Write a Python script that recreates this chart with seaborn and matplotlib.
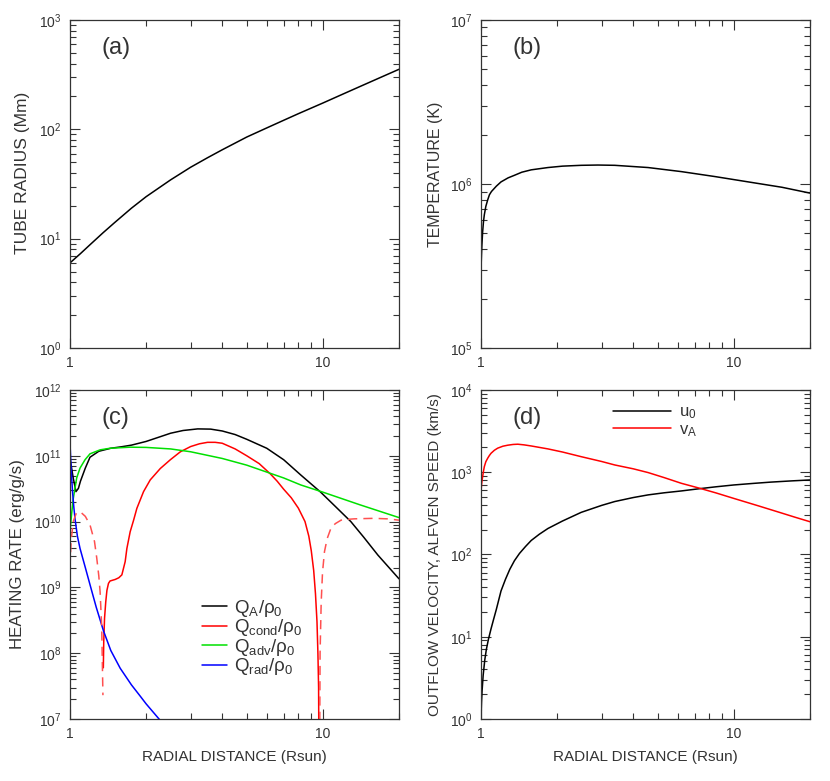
import matplotlib
matplotlib.use('Agg')
import matplotlib.pyplot as plt
import seaborn as sns
from matplotlib.ticker import LogLocator, NullFormatter, FixedLocator, FixedFormatter

# (a) tube radius (Mm)
r_a = [1.0, 1.1, 1.2, 1.35, 1.5, 1.75, 2.0, 2.5, 3.0, 3.5, 4.0, 5.0, 6.0, 7.0, 8.0,
       10.0, 12.0, 14.0, 17.0, 20.0]
tube_radius = [6.0, 7.3, 8.8, 11.3, 14.0, 19.0, 24.2, 34.5, 45, 55, 65, 85, 103, 121, 139,
               174, 210, 246, 300, 354]

# (b) temperature (K)
r_b = [1.0, 1.004, 1.008, 1.015, 1.023, 1.031, 1.045, 1.063, 1.08, 1.10, 1.15, 1.2, 1.28,
       1.356, 1.45, 1.58, 1.84, 2.1, 2.49, 2.9, 3.38, 4.58, 6.2, 8.42, 11.4, 15.5, 20.0]
temperature = [3.0e5, 3.6e5, 4.2e5, 5.1e5, 5.9e5, 6.5e5, 7.3e5, 8.0e5, 8.6e5, 9.0e5, 9.7e5,
               1.03e6, 1.09e6, 1.13e6, 1.18e6, 1.22e6, 1.26e6, 1.285e6, 1.30e6, 1.305e6,
               1.30e6, 1.26e6, 1.19e6, 1.11e6, 1.03e6, 9.55e5, 8.8e5]

# (c) heating rates (erg/g/s)
r_qa = [1.0, 1.015, 1.03, 1.056, 1.08, 1.1, 1.15, 1.2, 1.3, 1.45, 1.6, 1.75, 2.0, 2.25,
        2.5, 2.8, 3.2, 3.6, 4.0, 4.5, 5.0, 6.0, 7.0, 8.18, 9.8, 11.2, 12.9, 14.5, 16.5, 20.0]
q_a = [9e10, 6.5e10, 4.6e10, 2.85e10, 3.2e10, 4.1e10, 6.5e10, 9.5e10, 1.17e11, 1.3e11,
       1.37e11, 1.45e11, 1.65e11, 1.92e11, 2.2e11, 2.42e11, 2.56e11, 2.54e11, 2.38e11,
       2.1e11, 1.78e11, 1.3e11, 8.7e10, 5.1e10, 2.8e10, 1.7e10, 1.0e10, 5.8e9, 3.1e9, 1.35e9]

r_cond = [1.355, 1.36, 1.37, 1.385, 1.40, 1.42, 1.44, 1.51, 1.56, 1.604, 1.653, 1.679, 1.73,
          1.785, 1.839, 1.954, 2.077, 2.276, 2.494, 2.733, 3.0, 3.25, 3.5, 3.75, 4.0, 4.5,
          5.0, 5.6, 6.2, 6.6, 7.0, 7.5, 8.0, 8.5, 8.8, 9.0, 9.2, 9.35, 9.48, 9.56, 9.62, 9.66]
q_cond = [6e7, 1.5e8, 3.4e8, 6e8, 9e8, 1.15e9, 1.25e9, 1.32e9, 1.4e9, 1.55e9, 2.46e9, 3.9e9,
          7.0e9, 1.05e10, 1.59e10, 2.85e10, 4.3e10, 6.4e10, 8.7e10, 1.15e11, 1.38e11,
          1.52e11, 1.6e11, 1.6e11, 1.55e11, 1.27e11, 1.0e11, 7.6e10, 5.3e10, 4.1e10, 3.1e10,
          2.3e10, 1.6e10, 1.0e10, 6e9, 3.6e9, 1.8e9, 8e8, 3e8, 1e8, 3e7, 1e6]

# negative Q_cond (absolute value, dashed)
r_cond_neg1 = [1.0, 1.01, 1.03, 1.06, 1.1, 1.15, 1.2, 1.25, 1.276, 1.3, 1.316, 1.335, 1.35]
q_cond_neg1 = [2e9, 5e9, 1e10, 1.35e10, 1.4e10, 1.2e10, 8.9e9, 5e9, 2.8e9, 1.5e9, 8.5e8,
               2.5e8, 2.3e7]
r_cond_neg2 = [9.7, 9.75, 9.85, 9.97, 10.15, 10.4, 10.76, 11.2, 11.8, 12.5, 13.3, 15.9, 18.0,
               20.0]
q_cond_neg2 = [1e6, 1e8, 6e8, 1.7e9, 3.5e9, 5.5e9, 7.9e9, 9.3e9, 1.05e10, 1.08e10, 1.1e10,
               1.12e10, 1.1e10, 1.05e10]

r_adv = [1.0, 1.015, 1.03, 1.063, 1.096, 1.147, 1.2, 1.316, 1.44, 1.73, 2.0, 2.5, 3.0,
         4.0, 5.0, 7.0, 8.18, 10.0, 14.0, 20.0]
q_adv = [7e9, 1.3e10, 2.2e10, 4.6e10, 6.5e10, 8.7e10, 1.07e11, 1.23e11, 1.3e11, 1.35e11,
         1.34e11, 1.27e11, 1.15e11, 9.1e10, 7.2e10, 4.6e10, 3.6e10, 2.8e10, 1.8e10, 1.15e10]

r_rad = [1.0, 1.008, 1.016, 1.024, 1.035, 1.047, 1.07, 1.096, 1.15, 1.2, 1.27, 1.356, 1.45,
         1.58, 1.75, 1.9, 2.0, 2.25, 2.4]
q_rad = [1.6e11, 8e10, 4.5e10, 2.8e10, 1.7e10, 1.1e10, 6e9, 3.9e9, 2.0e9, 1.1e9, 5e8, 2.2e8,
         1.1e8, 5.9e7, 3.3e7, 2.2e7, 1.7e7, 1e7, 7.5e6]

# (d) outflow velocity and Alfven speed (km/s)
r_u = [1.0, 1.005, 1.01, 1.02, 1.035, 1.05, 1.07, 1.096, 1.12, 1.15, 1.2, 1.25, 1.3, 1.356,
       1.42, 1.5, 1.58, 1.7, 1.84, 2.1, 2.49, 3.0, 3.38, 4.0, 4.58, 5.3, 6.2, 7.3, 8.5, 10.0,
       12.0, 14.0, 17.0, 20.0]
u0 = [1.0, 1.6, 2.2, 3.4, 5.2, 7.0, 9.3, 12.5, 16, 21.5, 36, 50, 66, 84, 103, 125, 148, 176,
      207, 255, 325, 395, 440, 492, 530, 562, 592, 630, 665, 700, 732, 758, 785, 805]
r_va = [1.0, 1.005, 1.01, 1.015, 1.023, 1.031, 1.045, 1.063, 1.08, 1.096, 1.13, 1.164, 1.22,
        1.276, 1.34, 1.398, 1.48, 1.58, 1.84, 2.1, 2.49, 3.0, 3.38, 4.0, 4.58, 5.3, 6.2,
        7.3, 8.5, 10.0, 12.5, 15.0, 17.5, 20.0]
v_alf = [580, 700, 800, 880, 1030, 1170, 1340, 1480, 1600, 1700, 1850, 1960, 2070, 2130,
         2175, 2190, 2150, 2085, 1920, 1760, 1545, 1350, 1225, 1100, 990, 860, 733, 640, 560,
         480, 390, 328, 283, 250]

sns.set_style('ticks')
plt.rcParams['font.family'] = ['Liberation Sans', 'DejaVu Sans']
plt.rcParams['mathtext.fontset'] = 'custom'
plt.rcParams['mathtext.rm'] = 'Liberation Sans'
plt.rcParams['mathtext.it'] = 'Liberation Sans'
txt = '#333333'

fig = plt.figure(figsize=(8.3, 7.81), dpi=100)
ax_a = fig.add_axes([0.0843, 0.5544, 0.3964, 0.42])
ax_b = fig.add_axes([0.5795, 0.5544, 0.3964, 0.42])
ax_c = fig.add_axes([0.0843, 0.0794, 0.3964, 0.4213])
ax_d = fig.add_axes([0.5795, 0.0794, 0.3964, 0.4213])


def style(ax, ylim, ylabel, tag, ysize, yx, ypos=0.5, xlabel=None):
    ax.set_xscale('log')
    ax.set_yscale('log')
    ax.set_xlim(1, 20)
    ax.set_ylim(*ylim)
    ax.xaxis.set_major_locator(FixedLocator([1, 10]))
    ax.xaxis.set_major_formatter(FixedFormatter(['1', '10']))
    ax.xaxis.set_minor_locator(LogLocator(base=10, subs=range(2, 10), numticks=20))
    ax.xaxis.set_minor_formatter(NullFormatter())
    ax.yaxis.set_major_locator(LogLocator(base=10, numticks=20))
    ax.yaxis.set_minor_locator(LogLocator(base=10, subs=range(2, 10), numticks=50))
    ax.yaxis.set_minor_formatter(NullFormatter())
    ax.tick_params(which='both', direction='in', top=True, right=True,
                   color='#333333', labelcolor=txt, labelsize=10, width=0.8)
    ax.tick_params(which='major', length=7, pad=6)
    ax.tick_params(which='minor', length=4)
    for s in ax.spines.values():
        s.set_color('#333333')
        s.set_linewidth(0.9)
    ax.set_ylabel(ylabel, fontsize=ysize, color=txt)
    ax.yaxis.set_label_coords(yx, ypos)
    if xlabel:
        ax.set_xlabel(xlabel, fontsize=11, color=txt, labelpad=6)
    else:
        ax.set_xlabel('')
    ax.text(0.097, 0.915, tag, transform=ax.transAxes, fontsize=17, color=txt,
            ha='left', va='center')


lw = 1.1
sns.lineplot(x=r_a, y=tube_radius, ax=ax_a, color='black', linewidth=lw)
style(ax_a, (1, 1e3), 'TUBE RADIUS (Mm)', '(a)', 12.5, -0.122, 0.535)

sns.lineplot(x=r_b, y=temperature, ax=ax_b, color='black', linewidth=lw)
style(ax_b, (1e5, 1e7), 'TEMPERATURE (K)', '(b)', 11.5, -0.116, 0.53)

sns.lineplot(x=r_qa, y=q_a, ax=ax_c, color='black', linewidth=lw,
             label=r'$\mathrm{Q}_\mathrm{A}/\rho_0$')
sns.lineplot(x=r_cond, y=q_cond, ax=ax_c, color='red', linewidth=lw,
             label=r'$\mathrm{Q}_\mathrm{cond}/\rho_0$')
sns.lineplot(x=r_adv, y=q_adv, ax=ax_c, color='#00e000', linewidth=lw,
             label=r'$\mathrm{Q}_\mathrm{adv}/\rho_0$')
sns.lineplot(x=r_rad, y=q_rad, ax=ax_c, color='blue', linewidth=lw,
             label=r'$\mathrm{Q}_\mathrm{rad}/\rho_0$')
sns.lineplot(x=r_cond_neg1, y=q_cond_neg1, ax=ax_c, color='#ff5050', linewidth=lw,
             linestyle=(0, (6, 4)))
sns.lineplot(x=r_cond_neg2, y=q_cond_neg2, ax=ax_c, color='#ff5050', linewidth=lw,
             linestyle=(0, (6, 4)))
style(ax_c, (1e7, 1e12), 'HEATING RATE (erg/g/s)', '(c)', 12.2, -0.137, 0.5,
      'RADIAL DISTANCE (Rsun)')
ax_c.legend(loc='upper left', bbox_to_anchor=(0.401, 0.368), frameon=False, fontsize=13.5,
            handlelength=1.35, labelspacing=-0.08, handletextpad=0.37, borderpad=0,
            borderaxespad=0, labelcolor=txt)

sns.lineplot(x=r_u, y=u0, ax=ax_d, color='black', linewidth=lw, label=r'$\mathrm{u}_0$')
sns.lineplot(x=r_va, y=v_alf, ax=ax_d, color='red', linewidth=lw,
             label=r'$\mathrm{v}_\mathrm{A}$')
style(ax_d, (1, 1e4), 'OUTFLOW VELOCITY, ALFVEN SPEED (km/s)', '(d)', 11, -0.119, 0.5,
      'RADIAL DISTANCE (Rsun)')
ax_d.legend(loc='upper left', bbox_to_anchor=(0.401, 0.955), frameon=False, fontsize=12,
            handlelength=3.5, labelspacing=0.05, handletextpad=0.48, borderpad=0,
            borderaxespad=0, labelcolor=txt)

fig.savefig('out.png', dpi=100)
